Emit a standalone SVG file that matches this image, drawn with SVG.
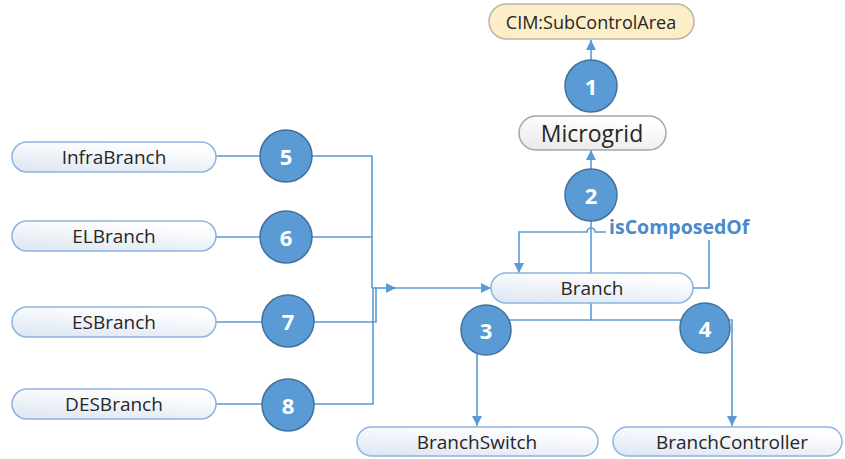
<svg xmlns="http://www.w3.org/2000/svg" width="845" height="459" viewBox="0 0 845 459">
<defs>
<linearGradient id="g" x1="0" y1="1" x2="0.5" y2="0">
<stop offset="0" stop-color="#DCE5F2"/>
<stop offset="1" stop-color="#FFFFFF"/>
</linearGradient>
<linearGradient id="gw" x1="0" y1="1" x2="0.4" y2="0">
<stop offset="0" stop-color="#E8E8E8"/>
<stop offset="1" stop-color="#FFFFFF"/>
</linearGradient>
<marker id="ah" viewBox="0 0 10 10" refX="10" refY="5" markerWidth="10" markerHeight="10" markerUnits="userSpaceOnUse" orient="auto">
<path d="M0,0 L10,5 L0,10 Z" fill="#5B9BD5"/>
</marker>
</defs>
<style>
.box{fill:url(#g);stroke:#8DB4E2;stroke-width:1.5}
.t{font-family:"Open Sans","Liberation Sans",sans-serif;font-size:19px;fill:#262626;text-anchor:middle;dominant-baseline:central}
.c{fill:#5B9BD5;stroke:#41719C;stroke-width:1.5}
.n{font-family:"Open Sans","Liberation Sans",sans-serif;font-size:22px;font-weight:bold;fill:#fff;text-anchor:middle;dominant-baseline:central}
.l{fill:none;stroke:#5B9BD5;stroke-width:1.6}
</style>
<g id="connectors">
<path class="l" d="M591 60 V40" marker-end="url(#ah)"/>
<path class="l" d="M591 170 V150" marker-end="url(#ah)"/>
<path class="l" d="M591 273 V221"/>
<path class="l" d="M693 288 H709 V240"/>
<path class="l" d="M606 232 H595 A4 4 0 0 0 587 232 H519 V273" marker-end="url(#ah)"/>
<path class="l" d="M591 303 V320 H477 V426" marker-end="url(#ah)"/>
<path class="l" d="M591 320 H732 V426" marker-end="url(#ah)"/>
<path class="l" d="M216 156 H372 V288"/>
<path class="l" d="M216 237 H372"/>
<path class="l" d="M216 322 H376 V288"/>
<path class="l" d="M216 404 H373 V288"/>
<path class="l" d="M372 288 H396" marker-end="url(#ah)"/>
<path class="l" d="M394 288 H491" marker-end="url(#ah)"/>
</g>
<g id="subcontrolarea">
<rect x="489" y="4" width="205" height="35" rx="17.5" fill="#FCEFC8" stroke="#BDB6A6" stroke-width="1.5"/>
<text class="t" x="591" y="21.5" style="font-size:18px">CIM:SubControlArea</text>
</g>
<g id="microgrid">
<rect x="519" y="116" width="147" height="34" rx="17" fill="url(#gw)" stroke="#A6A6A6" stroke-width="1.5"/>
<text class="t" x="592" y="133" style="font-size:23px">Microgrid</text>
</g>
<g id="branch">
<rect class="box" x="491" y="273" width="202" height="30" rx="15"/>
<text class="t" x="592" y="288">Branch</text>
</g>
<g id="label-isComposedOf">
<text x="609" y="226" font-family="'Open Sans','Liberation Sans',sans-serif" font-size="19.5" font-weight="bold" fill="#4A8ACB" dominant-baseline="central">isComposedOf</text>
</g>
<g id="infrabranch">
<rect class="box" x="12" y="142" width="204" height="30" rx="15"/>
<text class="t" x="114" y="157">InfraBranch</text>
</g>
<g id="elbranch">
<rect class="box" x="12" y="221" width="204" height="30" rx="15"/>
<text class="t" x="114" y="236">ELBranch</text>
</g>
<g id="esbranch">
<rect class="box" x="12" y="307" width="204" height="30" rx="15"/>
<text class="t" x="114" y="322">ESBranch</text>
</g>
<g id="desbranch">
<rect class="box" x="12" y="389" width="204" height="30" rx="15"/>
<text class="t" x="114" y="404">DESBranch</text>
</g>
<g id="branchswitch">
<rect class="box" x="357" y="427" width="241" height="29" rx="14.5"/>
<text class="t" x="477" y="441.5">BranchSwitch</text>
</g>
<g id="branchcontroller">
<rect class="box" x="613" y="427" width="229" height="29" rx="14.5"/>
<text class="t" x="732" y="441.5">BranchController</text>
</g>
<g id="c1"><circle class="c" cx="591" cy="86" r="26"/><text class="n" x="591" y="86">1</text></g>
<g id="c2"><circle class="c" cx="591" cy="195" r="26"/><text class="n" x="591" y="195">2</text></g>
<g id="c3"><circle class="c" cx="486" cy="330" r="25"/><text class="n" x="486" y="330">3</text></g>
<g id="c4"><circle class="c" cx="705" cy="328" r="25"/><text class="n" x="705" y="328">4</text></g>
<g id="c5"><circle class="c" cx="286" cy="156" r="26"/><text class="n" x="286" y="156">5</text></g>
<g id="c6"><circle class="c" cx="286" cy="237" r="26"/><text class="n" x="286" y="237">6</text></g>
<g id="c7"><circle class="c" cx="288" cy="321" r="26"/><text class="n" x="288" y="321">7</text></g>
<g id="c8"><circle class="c" cx="288" cy="405" r="26"/><text class="n" x="288" y="405">8</text></g>
</svg>
